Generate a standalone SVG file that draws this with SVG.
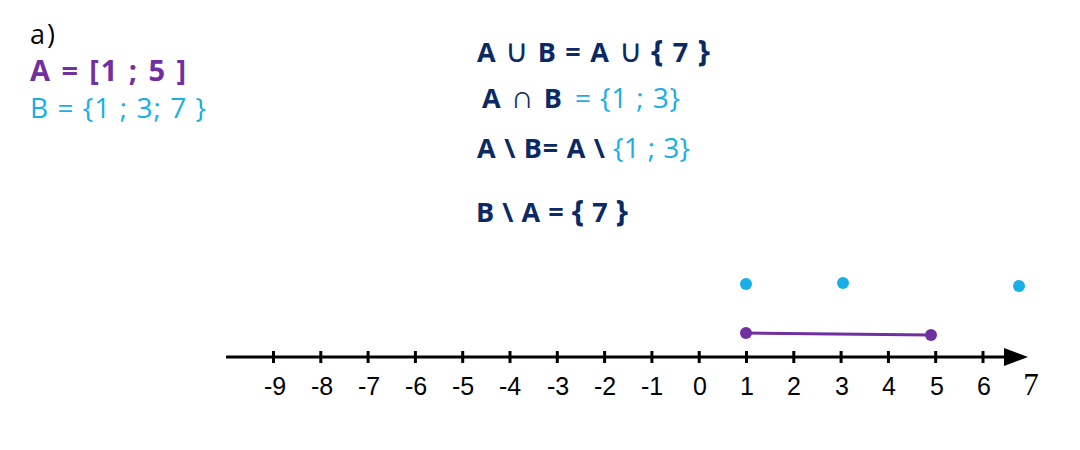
<svg xmlns="http://www.w3.org/2000/svg" width="1080" height="450" viewBox="0 0 1080 450">
<style>
.t{font-family:"Open Sans","Noto Sans",sans-serif}
.nav{fill:#0b2a63;font-weight:bold;font-size:27px}
.blu{fill:#1aaee6}
.pur{fill:#7030a0}
.op{font-size:32px;font-weight:normal}
.br{font-size:31px}
.num{font-family:"Liberation Sans",Arial,sans-serif;font-size:25px;fill:#000;text-anchor:middle}
.tick{stroke:#000;stroke-width:3}
</style>
<rect width="1080" height="450" fill="#fff"/>
<g id="defs-text">
<text class="t" x="30" y="44" font-size="27" fill="#000" textLength="25" lengthAdjust="spacing">a)</text>
<text class="t pur" x="30" y="81" font-size="29" font-weight="bold" textLength="156" lengthAdjust="spacing">A = [1 ; 5 ]</text>
<text class="t blu" x="30" y="118" font-size="28" textLength="176" lengthAdjust="spacing">B = {1 ; 3; 7 }</text>
</g>
<g id="ops">
<text class="t nav" x="477" y="62" textLength="233" lengthAdjust="spacing">A <tspan class="op">∪</tspan> B = A <tspan class="op">∪</tspan> <tspan class="br">{</tspan> 7 <tspan class="br">}</tspan></text>
<text class="t nav" x="482" y="108" textLength="80" lengthAdjust="spacing">A <tspan class="op">∩</tspan> B</text>
<text class="t blu" x="575" y="108" font-size="28" textLength="105" lengthAdjust="spacing">= {1 ; 3}</text>
<text class="t nav" x="477" y="158" textLength="128" lengthAdjust="spacing">A \ B= A \</text>
<text class="t blu" x="613" y="158" font-size="28" textLength="77" lengthAdjust="spacing">{1 ; 3}</text>
<text class="t nav" x="476" y="222" textLength="152" lengthAdjust="spacing">B \ A = <tspan class="br">{</tspan> 7 <tspan class="br">}</tspan></text>
</g>
<g id="axis">
<line x1="226" y1="357" x2="1010" y2="357" stroke="#000" stroke-width="3"/>
<path d="M1004,348 L1028,357 L1004,366 Z" fill="#000"/>
<g class="tick">
<line x1="273.5" y1="351" x2="273.5" y2="363"/>
<line x1="320.8" y1="351" x2="320.8" y2="363"/>
<line x1="368.1" y1="351" x2="368.1" y2="363"/>
<line x1="415.4" y1="351" x2="415.4" y2="363"/>
<line x1="462.7" y1="351" x2="462.7" y2="363"/>
<line x1="510" y1="351" x2="510" y2="363"/>
<line x1="557.3" y1="351" x2="557.3" y2="363"/>
<line x1="604.6" y1="351" x2="604.6" y2="363"/>
<line x1="651.9" y1="351" x2="651.9" y2="363"/>
<line x1="699.2" y1="351" x2="699.2" y2="363"/>
<line x1="746.5" y1="351" x2="746.5" y2="363"/>
<line x1="793.8" y1="351" x2="793.8" y2="363"/>
<line x1="841.1" y1="351" x2="841.1" y2="363"/>
<line x1="888.4" y1="351" x2="888.4" y2="363"/>
<line x1="935.7" y1="351" x2="935.7" y2="363"/>
<line x1="983" y1="351" x2="983" y2="363"/>
</g>
<g id="labels">
<text class="num" x="275" y="395">-9</text>
<text class="num" x="322" y="395">-8</text>
<text class="num" x="369" y="395">-7</text>
<text class="num" x="416" y="395">-6</text>
<text class="num" x="463" y="395">-5</text>
<text class="num" x="510" y="395">-4</text>
<text class="num" x="558" y="395">-3</text>
<text class="num" x="605" y="395">-2</text>
<text class="num" x="652" y="395">-1</text>
<text class="num" x="700" y="395">0</text>
<text class="num" x="747" y="395">1</text>
<text class="num" x="794" y="395">2</text>
<text class="num" x="842" y="395">3</text>
<text class="num" x="889" y="395">4</text>
<text class="num" x="937" y="395">5</text>
<text class="num" x="984" y="395">6</text>
<text x="1031" y="395" font-family="Liberation Serif,serif" font-size="31" text-anchor="middle" fill="#000">7</text>
</g>
</g>
<g id="setB">
<circle cx="746" cy="284" r="6" fill="#1aaee6"/>
<circle cx="843" cy="283" r="6" fill="#1aaee6"/>
<circle cx="1019" cy="286" r="6" fill="#1aaee6"/>
</g>
<g id="setA">
<line x1="746" y1="333" x2="931" y2="335" stroke="#7030a0" stroke-width="3"/>
<circle cx="746" cy="333" r="6" fill="#7030a0"/>
<circle cx="931" cy="335" r="6" fill="#7030a0"/>
</g>
</svg>
